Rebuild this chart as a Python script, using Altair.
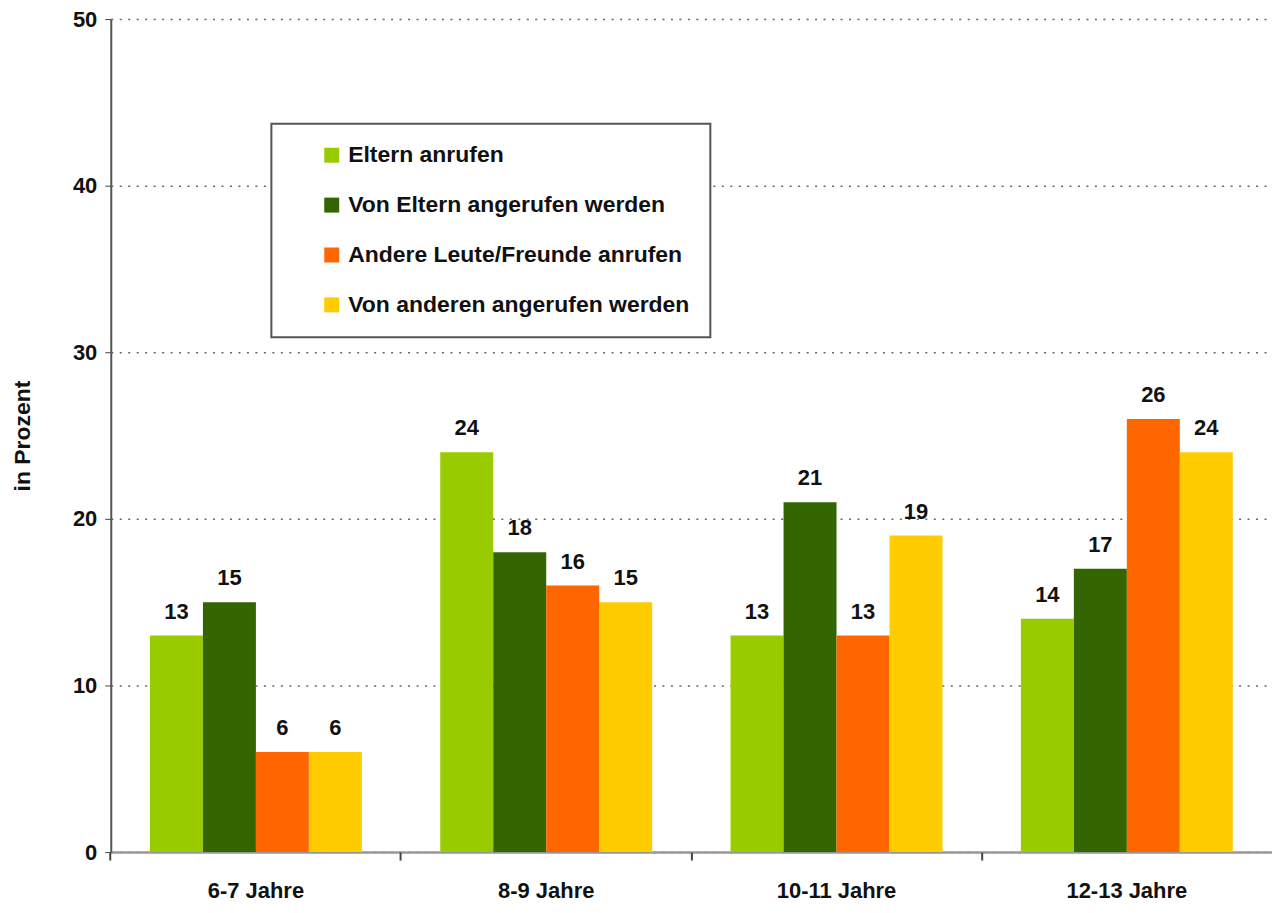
import altair as alt
import pandas as pd

categories = ["6-7 Jahre", "8-9 Jahre", "10-11 Jahre", "12-13 Jahre"]
series = ["Eltern anrufen", "Von Eltern angerufen werden",
          "Andere Leute/Freunde anrufen", "Von anderen angerufen werden"]
colors = ["#99CC00", "#336600", "#FF6600", "#FFCC00"]
eltern_anrufen = [13, 24, 13, 14]
von_eltern = [15, 18, 21, 17]
andere_anrufen = [6, 16, 13, 26]
von_anderen = [6, 15, 19, 24]

values = [eltern_anrufen, von_eltern, andere_anrufen, von_anderen]
rows = []
for s, vals in zip(series, values):
    for c, v in zip(categories, vals):
        rows.append({"Alter": c, "Gruppe": s, "Wert": v})
df = pd.DataFrame(rows)

FONT = "Liberation Sans"
TXT = "#111"
P_IN = 0.27
P_OUT = 0.135

xscale = alt.Scale(paddingInner=P_IN, paddingOuter=P_OUT)
x_main = alt.X("Alter:N", sort=categories, title=None, scale=xscale,
               axis=alt.Axis(orient="bottom", labelAngle=0, labelFontSize=22,
                             labelFontWeight="bold", labelFont=FONT, labelColor=TXT,
                             labelPadding=29, ticks=False,
                             domainColor="#999", domainWidth=2.5))
x_ticks = alt.X("Alter:N", sort=categories, title=None, scale=xscale,
                axis=alt.Axis(orient="bottom", labels=False, domain=False,
                              ticks=True, tickSize=8, tickWidth=2,
                              tickColor="#444",
                              bandPosition=-(P_IN / 2) / (1 - P_IN)))
xo = alt.XOffset("Gruppe:N", sort=series, scale=alt.Scale(paddingInner=0, paddingOuter=0))
y = alt.Y("Wert:Q", title="in Prozent",
          scale=alt.Scale(domain=[0, 50], nice=False),
          axis=alt.Axis(values=[0, 10, 20, 30, 40, 50], labelFontSize=22,
                        labelFontWeight="bold", labelFont=FONT, labelColor=TXT,
                        titleFont=FONT, titleFontSize=23, titleFontWeight="bold",
                        titleColor=TXT, titlePadding=38,
                        tickColor="#444", tickSize=6, labelPadding=8,
                        domainColor="#555", domainWidth=2,
                        grid=True, gridColor="#666", gridDash=[2, 6.5], gridWidth=1.5))

bars = alt.Chart(df).mark_bar().encode(
    x=x_main, xOffset=xo, y=y,
    color=alt.Color("Gruppe:N", sort=series,
                    scale=alt.Scale(domain=series, range=colors),
                    legend=alt.Legend(title=None, orient="none", legendX=161, legendY=105,
                                      symbolType="square", symbolSize=225,
                                      symbolStrokeWidth=0, symbolOffset=29,
                                      labelFont=FONT, labelFontSize=23,
                                      labelFontWeight="bold", labelColor=TXT,
                                      labelLimit=600, rowPadding=26, padding=20,
                                      labelOffset=5, strokeColor="#555",
                                      fillColor="white"))
)

labels = alt.Chart(df).mark_text(dy=-17, baseline="alphabetic", font=FONT,
                                 fontSize=22, fontWeight="bold", color=TXT).encode(
    x=x_ticks, xOffset=alt.XOffset("Gruppe:N", sort=series),
    y=alt.Y("Wert:Q"), text=alt.Text("Wert:Q")
)

chart = (bars + labels).resolve_axis(x="independent").properties(
    width=1164, height=835,
    autosize=alt.AutoSizeParams(type="none"),
    padding={"left": 103, "top": 10, "right": 0, "bottom": 52},
).configure_view(stroke=None).configure_legend(strokeWidth=2)

chart.save("out.html", embed_options={"renderer": "svg", "actions": False})
